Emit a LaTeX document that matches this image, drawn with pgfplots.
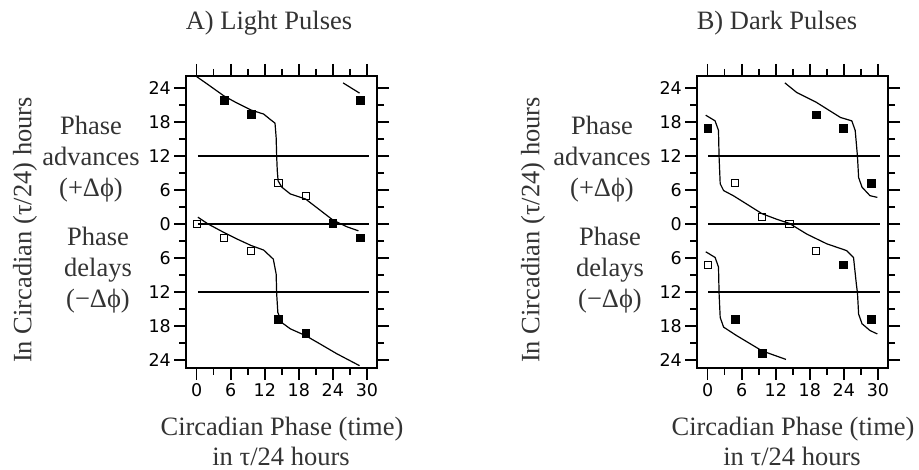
\documentclass[border=0pt]{standalone}
\usepackage{fontspec}
\setmainfont{Liberation Serif}
\newfontfamily\tickfont{DejaVu Sans}
\usepackage{pgfplots}
\pgfplotsset{compat=1.18}
\pgfplotsset{panel/.style={
  scale only axis, width=191pt, height=292pt,
  xmin=-1.89, xmax=31.78, ymin=-25.41, ymax=26.12,
  xtick={0,6,...,30}, ytick={-24,-18,...,24},
  xticklabels={0,6,12,18,24,30},
  yticklabels={24,18,12,6,0,6,12,18,24},
  minor x tick num=1, minor y tick num=1,
  tick align=outside, xtick pos=both, ytick pos=both,
  xticklabel pos=bottom, yticklabel pos=left,
  major tick length=12pt, minor tick length=7pt,
  axis line style={line width=1.8pt},
  every tick/.style={line width=1.5pt, black},
  x tick label style={font=\tickfont\fontsize{17.5}{18}\selectfont, inner sep=3pt},
  y tick label style={font=\tickfont\fontsize{17.5}{18}\selectfont, inner sep=3pt},
  clip=false},
  hl/.style={line width=1.5pt, black},
  cv/.style={line width=1.2pt, black},
  fsq/.style={only marks, mark=square*, mark size=3.8pt, mark options={black}},
  osq/.style={only marks, mark=square, mark size=3.6pt, mark options={black, fill=white, line width=1pt}}
}
\begin{document}
\begin{tikzpicture}
\path[use as bounding box] (0,0) rectangle (919pt,470pt);
\tikzset{lab/.style={text=black!80, font=\fontsize{26.5}{28}\selectfont, inner sep=0pt},
  side/.style={lab, align=center, font=\fontsize{26.5}{31}\selectfont}}
% Panel A
\begin{axis}[panel, at={(186pt,102pt)}, anchor=south west]
\addplot[hl] coordinates {(0.2,12)(30.3,12)};
\addplot[hl] coordinates {(0.2,0)(30.3,0)};
\addplot[hl] coordinates {(0.2,-12)(30.3,-12)};
\addplot[cv] coordinates {(0,26)(2,24.6)(4.8,22.6)(7,21.4)(9.6,20.1)(11.8,19.4)(12.9,18.5)(13.8,17.8)(14,15.3)(14.1,11.8)(14.2,9.4)(14.35,7.6)(15,6.5)(16.5,5.3)(19.2,4.4)(21.8,2.4)(24,0.7)(26.5,-0.5)(28.5,-1.2)};
\addplot[cv] coordinates {(25.8,24.9)(28.7,23.1)};
\addplot[cv] coordinates {(0.2,1.2)(2,0)(4.8,-1.5)(7,-2.6)(9.6,-3.8)(11.8,-4.6)(13.5,-6.2)(14,-8.8)(14.1,-12.4)(14.3,-15.6)(15,-17.4)(16.5,-18.5)(19.2,-19.7)(21.8,-21.2)(24.7,-22.9)(28.7,-25)};
\addplot[fsq] coordinates {(4.8,21.8)(9.6,19.4)(28.8,21.8)(24,0.1)(28.8,-2.4)(14.4,-16.8)(19.2,-19.3)};
\addplot[osq] coordinates {(14.4,7.3)(19.2,4.9)(0,0)(4.8,-2.4)(9.6,-4.7)};
\end{axis}
% Panel B
\begin{axis}[panel, at={(697pt,102pt)}, anchor=south west]
\addplot[hl] coordinates {(0.1,12)(30.4,12)};
\addplot[hl] coordinates {(0.1,0)(30.4,0)};
\addplot[hl] coordinates {(0.1,-12)(30.4,-12)};
\addplot[cv] coordinates {(-0.35,19.2)(1.3,18.2)(1.9,16.5)(2,11.9)(2.2,7.1)(2.8,5.9)(4.5,5)(6.9,3.5)(9.6,1.8)(12,0.9)(14.4,0.1)(17.5,-1.8)(21,-3.5)(24.5,-4.7)(25.7,-5.9)(26.2,-10.6)(26.4,-12.2)(26.6,-15.9)(27.2,-17.6)(28.6,-18.8)(29.9,-19.4)};
\addplot[cv] coordinates {(13.6,24.9)(15.7,23.2)(19.1,21.5)(23.4,18.8)(25.4,18.2)(26,16.5)(26.4,11.9)(26.6,8.2)(27.2,6.5)(28.6,5)(29.9,4.7)};
\addplot[cv] coordinates {(-0.35,-4.9)(1.3,-5.9)(1.9,-7.6)(2,-12.2)(2.2,-16.5)(2.8,-18.2)(5.1,-19.7)(9.6,-22.4)(13.8,-23.9)};
\addplot[fsq] coordinates {(0,16.9)(19.1,19.3)(23.9,16.9)(28.8,7.2)(23.9,-7.2)(4.8,-16.8)(9.6,-22.8)(28.8,-16.8)};
\addplot[osq] coordinates {(4.8,7.2)(9.6,1.3)(14.4,0)(19.1,-4.7)(0,-7.2)};
\end{axis}
% Titles
\node[lab] at (269pt,447pt) {A) Light Pulses};
\node[lab] at (777pt,447pt) {B) Dark Pulses};
% Y labels
\node[lab, rotate=90] at (25pt,240pt) {In Circadian (τ/24) hours};
\node[lab, rotate=90] at (533pt,240pt) {In Circadian (τ/24) hours};
% Side labels A
\node[side] at (91pt,311pt) {Phase\\advances\\(+Δϕ)};
\node[side] at (98pt,200pt) {Phase\\delays\\(−Δϕ)};
% Side labels B
\node[side] at (602pt,311pt) {Phase\\advances\\(+Δϕ)};
\node[side] at (610pt,200pt) {Phase\\delays\\(−Δϕ)};
% X labels
\node[lab] at (282pt,41pt) {Circadian Phase (time)};
\node[lab] at (281pt,14pt) {in τ/24 hours};
\node[lab] at (793pt,41pt) {Circadian Phase (time)};
\node[lab] at (792pt,14pt) {in τ/24 hours};
\end{tikzpicture}
\end{document}
